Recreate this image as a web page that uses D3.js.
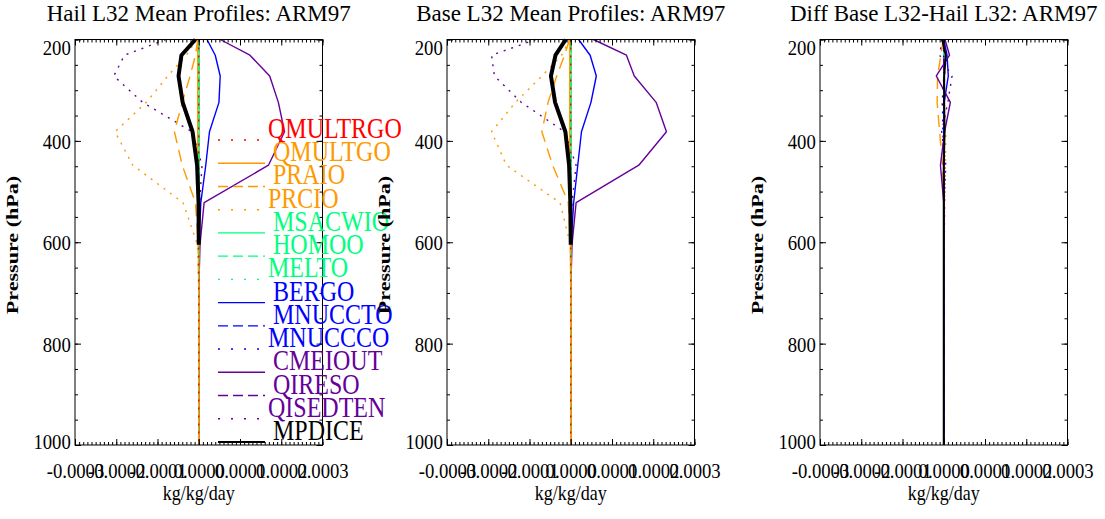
<!DOCTYPE html>
<html><head><meta charset="utf-8">
<script src="https://cdn.jsdelivr.net/npm/d3@7"></script>
<style>body{margin:0;background:#fff} svg{display:block} text{font-family:"Liberation Serif","Times New Roman",serif}</style>
</head><body><svg id="c" width="1105" height="519"></svg>
<script>
// ---------------- data ----------------
const pressure = [200, 231, 272, 324, 382, 448, 522, 605, 695, 795, 900, 1000];
const xTickValues = [-0.0003, -0.0002, -0.0001, 0, 0.0001, 0.0002, 0.0003];
const xTickLabels = ["-0.0003", "-0.0002", "-0.0001", "0.0000", "0.0001", "0.0002", "0.0003"];
const yTickValues = [200, 400, 600, 800, 1000];
const yTickLabels = ["200", "400", "600", "800", "1000"];
const panelTitles = ["Hail L32 Mean Profiles: ARM97", "Base L32 Mean Profiles: ARM97", "Diff Base L32-Hail L32: ARM97"];
const species = ["QMULTRGO", "QMULTGO", "PRAIO", "PRCIO", "MSACWIO", "HOMOO", "MELTO",
                 "BERGO", "MNUCCTO", "MNUCCCO", "CMEIOUT", "QIRESO", "QISEDTEN", "MPDICE"];
const speciesColor = ["#ff0000", "#ff9900", "#ff9900", "#ff9900", "#00ff80", "#00ff80", "#00ff80",
                      "#0000ff", "#0000ff", "#0000ff", "#660099", "#660099", "#660099", "#000000"];
const speciesStyle = ["dot", "solid", "dash", "dot", "solid", "dash", "dot",
                      "solid", "dash", "dot", "solid", "dash", "dot", "solid"];

// values in units of 1e-5 kg/kg/day, one per pressure level (null = not drawn)
const hail_QMULTRGO = [0, 0, 0, 0, 0, 0, 0, 0, 0, 0, 0, 0];
const hail_QMULTGO  = [-0.2, -0.25, -0.25, -0.25, -0.25, -0.25, -0.2, -0.1, 0, 0, 0, 0];
const hail_PRAIO    = [-0.2, -0.8, -2.1, -4.0, -5.9, -4.0, -0.8, -0.1, 0, 0, 0, 0];
const hail_PRCIO    = [-0.5, -3.0, -7.5, -12.7, -20.3, -16.0, -3.8, -0.3, 0, 0, 0, 0];
const hail_MSACWIO  = [0.1, 0.1, 0.1, 0.1, 0.1, 0.1, 0.1, 0.05, 0, 0, 0, 0];
const hail_HOMOO    = [0, 0, 0, 0, 0, 0, 0, 0, 0, 0, 0, 0];
const hail_MELTO    = [0, 0, 0, 0, 0, 0, 0, 0, 0, 0, 0, 0];
const hail_BERGO    = [2.0, 4.0, 5.2, 4.9, 2.6, 1.7, 0.5, 0.05, 0, 0, 0, 0];
const hail_MNUCCTO  = [0, 0, 0, 0, 0, 0, 0, 0, 0, 0, 0, 0];
const hail_MNUCCCO  = [0, 0, 0, 0, 0, 0, 0, 0, 0, 0, 0, 0];
const hail_CMEIOUT  = [5.2, 12.4, 17.2, 19.3, 20.8, 16.9, 1.3, 0.3, 0, 0, 0, 0];
const hail_QIRESO   = [0, 0, 0, 0, 0, 0, 0, 0, 0, 0, 0, 0];
const hail_QISEDTEN = [-8.0, -18.0, -20.6, -13.6, -1.6, 0.8, 0.2, 0, 0, 0, 0, 0];
const hail_MPDICE   = [-0.8, -4.2, -4.9, -3.9, -1.5, -0.4, -0.05, 0, null, null, null, null];

const base_QMULTRGO = [0, 0, 0, 0, 0, 0, 0, 0, 0, 0, 0, 0];
const base_QMULTGO  = [-0.2, -0.25, -0.25, -0.25, -0.25, -0.25, -0.2, -0.1, 0, 0, 0, 0];
const base_PRAIO    = [-0.3, -1.5, -3.4, -5.5, -7.0, -4.4, -0.6, 0, 0, 0, 0, 0];
const base_PRCIO    = [-0.3, -2.2, -7.0, -13.4, -19.2, -15.6, -2.6, -0.1, 0, 0, 0, 0];
const base_MSACWIO  = [0.1, 0.1, 0.1, 0.1, 0.1, 0.1, 0.1, 0.05, 0, 0, 0, 0];
const base_HOMOO    = [0, 0, 0, 0, 0, 0, 0, 0, 0, 0, 0, 0];
const base_MELTO    = [0, 0, 0, 0, 0, 0, 0, 0, 0, 0, 0, 0];
const base_BERGO    = [1.9, 4.7, 6.2, 4.9, 2.6, 1.7, 0.7, 0.1, 0, 0, 0, 0];
const base_MNUCCTO  = [0, 0, 0, 0, 0, 0, 0, 0, 0, 0, 0, 0];
const base_MNUCCCO  = [0, 0, 0, 0, 0, 0, 0, 0, 0, 0, 0, 0];
const base_CMEIOUT  = [5.5, 13.5, 15.4, 20.7, 23.2, 16.5, 1.3, 0.3, 0, 0, 0, 0];
const base_QIRESO   = [0, 0, 0, 0, 0, 0, 0, 0, 0, 0, 0, 0];
const base_QISEDTEN = [-8.5, -19.2, -18.5, -12.0, -1.5, 1.3, 0.3, 0, 0, 0, 0, 0];
const base_MPDICE   = [-1.2, -3.7, -4.8, -3.8, -1.3, -0.4, -0.1, 0, null, null, null, null];

const diff_QMULTRGO = [0, 0, 0, 0, 0, 0, 0, 0, 0, 0, 0, 0];
const diff_QMULTGO  = [0, 0, 0, 0, 0, 0, 0, 0, 0, 0, 0, 0];
const diff_PRAIO    = [-0.1, -0.7, -1.5, -1.6, -1.0, -0.3, 0.1, 0, 0, 0, 0, 0];
const diff_PRCIO    = [0.2, 0.5, 0.3, -0.5, 0.5, 0.4, 0.3, 0.1, 0, 0, 0, 0];
const diff_MSACWIO  = [0, 0, 0, 0, 0, 0, 0, 0, 0, 0, 0, 0];
const diff_HOMOO    = [0, 0, 0, 0, 0, 0, 0, 0, 0, 0, 0, 0];
const diff_MELTO    = [0, 0, 0, 0, 0, 0, 0, 0, 0, 0, 0, 0];
const diff_BERGO    = [0, 0.8, 1.1, 0.1, 0, 0, 0.1, 0, 0, 0, 0, 0];
const diff_MNUCCTO  = [0, 0, 0, 0, 0, 0, 0, 0, 0, 0, 0, 0];
const diff_MNUCCCO  = [0, 0, 0, -0.3, -0.2, 0, 0, 0, 0, 0, 0, 0];
const diff_CMEIOUT  = [0.3, 1.4, -1.8, 1.6, 0.2, -0.8, 0, 0, 0, 0, 0, 0];
const diff_QIRESO   = [0, 0, 0, 0, 0, 0, 0, 0, 0, 0, 0, 0];
const diff_QISEDTEN = [-0.4, -1.0, 2.0, 1.0, -0.5, 0.5, 0.1, 0, 0, 0, 0, 0];
const diff_MPDICE   = [-0.4, 0.5, 0.1, 0.1, 0.2, 0, 0, 0, 0, 0, 0, 0];

const UNIT = 1e-5;
const panelSeries = [
  [hail_QMULTRGO, hail_QMULTGO, hail_PRAIO, hail_PRCIO, hail_MSACWIO, hail_HOMOO, hail_MELTO,
   hail_BERGO, hail_MNUCCTO, hail_MNUCCCO, hail_CMEIOUT, hail_QIRESO, hail_QISEDTEN, hail_MPDICE],
  [base_QMULTRGO, base_QMULTGO, base_PRAIO, base_PRCIO, base_MSACWIO, base_HOMOO, base_MELTO,
   base_BERGO, base_MNUCCTO, base_MNUCCCO, base_CMEIOUT, base_QIRESO, base_QISEDTEN, base_MPDICE],
  [diff_QMULTRGO, diff_QMULTGO, diff_PRAIO, diff_PRCIO, diff_MSACWIO, diff_HOMOO, diff_MELTO,
   diff_BERGO, diff_MNUCCTO, diff_MNUCCCO, diff_CMEIOUT, diff_QIRESO, diff_QISEDTEN, diff_MPDICE]
];

// ---------------- layout ----------------
const svg = d3.select("#c");
const panelLeft = [75, 447, 820];
const W = 247.5, TOP = 39.5, BOTTOM = 445;
const lineDash = {solid: null, dash: "12,7", dot: "2,6"};
const legendDash = {solid: null, dash: "10,5", dot: "2,11"};
const minorX = d3.range(-30, 31).map(d => d * 1e-5);
const minorY = d3.range(200, 1001, 50);

function drawPanel(pi) {
  const L = panelLeft[pi];
  const x = d3.scaleLinear().domain([-0.0003, 0.0003]).range([L, L + W]);
  const y = d3.scaleLinear().domain([200, 1000]).range([TOP, BOTTOM]);
  const g = svg.append("g");

  // data lines (profile panels: processes drawn in reverse order, MPDICE on top)
  const line = d3.line().defined(d => d[1] !== null).x(d => x(d[1] * UNIT)).y(d => y(d[0]));
  const idx = d3.range(species.length - 1);
  const order = (pi === 2 ? idx : idx.slice().reverse()).concat([species.length - 1]);
  order.forEach(k => {
    const vals = panelSeries[pi][k];
    const pts = pressure.map((p, j) => [p, vals[j]]);
    const thick = species[k] === "MPDICE" ? (pi === 2 ? 2 : 4) : 1.4;
    g.append("path").attr("d", line(pts))
      .attr("fill", "none")
      .attr("stroke", speciesColor[k])
      .attr("stroke-width", thick)
      .attr("stroke-linejoin", "round")
      .attr("stroke-dasharray", lineDash[speciesStyle[k]]);
  });

  // frame
  g.append("rect").attr("x", L).attr("y", TOP).attr("width", W).attr("height", BOTTOM - TOP)
    .attr("fill", "none").attr("stroke", "#000").attr("stroke-width", 1);

  const styleAxis = sel => { sel.select(".domain").remove(); sel.selectAll("line").attr("stroke", "#000"); };

  // minor ticks
  g.append("g").attr("transform", `translate(0,${BOTTOM})`)
    .call(d3.axisBottom(x).tickValues(minorX).tickSize(-3).tickFormat("")).call(styleAxis);
  g.append("g").attr("transform", `translate(0,${TOP})`)
    .call(d3.axisTop(x).tickValues(minorX).tickSize(-3).tickFormat("")).call(styleAxis);
  g.append("g").attr("transform", `translate(${L},0)`)
    .call(d3.axisLeft(y).tickValues(minorY).tickSize(-3).tickFormat("")).call(styleAxis);
  g.append("g").attr("transform", `translate(${L + W},0)`)
    .call(d3.axisRight(y).tickValues(minorY).tickSize(-3).tickFormat("")).call(styleAxis);

  // major ticks
  const bx = g.append("g").attr("transform", `translate(0,${BOTTOM})`)
    .call(d3.axisBottom(x).tickValues(xTickValues).tickSize(-6).tickFormat((d, i) => xTickLabels[i]))
    .call(styleAxis);
  bx.selectAll("text").attr("y", 33).attr("dy", 0).attr("fill", "#000")
    .attr("font-family", "Liberation Serif").attr("font-size", 22)
    .attr("transform", "scale(0.85,1)");
  g.append("g").attr("transform", `translate(0,${TOP})`)
    .call(d3.axisTop(x).tickValues(xTickValues).tickSize(-6).tickFormat("")).call(styleAxis);
  const ly = g.append("g").attr("transform", `translate(${L},0)`)
    .call(d3.axisLeft(y).tickValues(yTickValues).tickSize(-6).tickPadding(5).tickFormat((d, i) => yTickLabels[i]))
    .call(styleAxis);
  ly.selectAll("text").attr("fill", "#000").attr("font-family", "Liberation Serif").attr("font-size", 22)
    .attr("dy", "0.34em").attr("y", (d, i) => i === 0 ? 7.5 : (i === yTickValues.length - 1 ? -4 : 0))
    .attr("transform", "scale(0.85,1)");
  g.append("g").attr("transform", `translate(${L + W},0)`)
    .call(d3.axisRight(y).tickValues(yTickValues).tickSize(-6).tickFormat("")).call(styleAxis);

  // titles
  g.append("text").attr("x", L + W / 2).attr("y", 21).attr("text-anchor", "middle")
    .attr("font-size", 23).text(panelTitles[pi]);
  g.append("text").attr("transform", `translate(${L + W / 2},500) scale(0.82,1)`)
    .attr("text-anchor", "middle").attr("font-size", 22).text("kg/kg/day");
  g.append("text").attr("transform", `translate(${L - 57},245) rotate(-90) scale(1.3,1)`)
    .attr("text-anchor", "middle").attr("font-size", 17).attr("font-weight", "bold")
    .text("Pressure (hPa)");
}

function drawLegend() {
  const g = svg.append("g");
  species.forEach((name, k) => {
    const by = 138 + k * 23.23;
    const st = speciesStyle[k];
    g.append("line").attr("x1", 218).attr("x2", st === "dot" ? 262 : 265)
      .attr("y1", by + 2).attr("y2", by + 2)
      .attr("stroke", speciesColor[k]).attr("stroke-width", name === "MPDICE" ? 2 : 1.4)
      .attr("stroke-dasharray", legendDash[st]);
    g.append("text").attr("transform", `translate(${st === "dot" ? 268 : 273},${by}) scale(0.8,1)`)
      .attr("font-size", 30).attr("fill", speciesColor[k]).text(name);
  });
}

drawPanel(0);
drawLegend();
drawPanel(1);
drawPanel(2);
</script></body></html>
